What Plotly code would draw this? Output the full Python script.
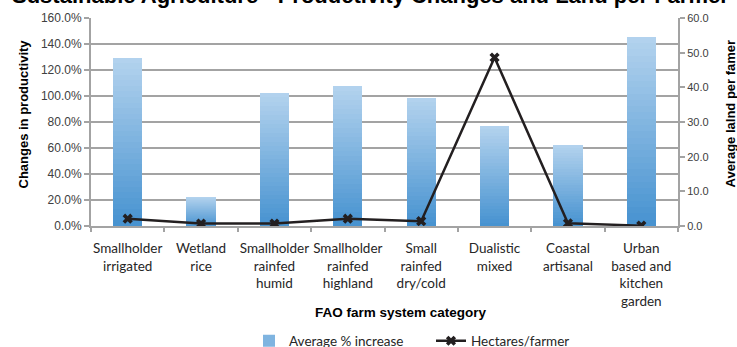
import plotly.graph_objects as go

categories = ["Smallholder<br>irrigated", "Wetland<br>rice", "Smallholder<br>rainfed<br>humid",
              "Smallholder<br>rainfed<br>highland", "Small<br>rainfed<br>dry/cold",
              "Dualistic<br>mixed", "Coastal<br>artisanal", "Urban<br>based and<br>kitchen<br>garden"]
productivity = [1.294, 0.223, 1.024, 1.078, 0.988, 0.770, 0.624, 1.456]
hectares = [2.1, 0.7, 0.7, 2.1, 1.4, 48.6, 0.8, 0.1]

bar_name = "Average % increase"
line_name = "Hectares/farmer"
title_text = "Sustainable Agriculture - Productivity Changes and Land per Farmer"

dark = (70, 146, 208)
light = (180, 211, 238)
N = 30

fig = go.Figure()
for i in range(N):
    t = (i + 0.5) / N
    c = tuple(int(round(dark[k] + (light[k] - dark[k]) * t)) for k in range(3))
    fig.add_trace(go.Bar(
        x=categories, y=[v / N for v in productivity],
        marker=dict(color="rgb(%d,%d,%d)" % c, line=dict(width=0)),
        name=bar_name, showlegend=(i == N // 2), legendrank=1,
        hoverinfo="skip", yaxis="y"))

fig.add_trace(go.Scatter(
    x=categories, y=hectares, yaxis="y2", name=line_name, mode="lines+markers",
    line=dict(color="#231f20", width=2.5),
    marker=dict(symbol="x", size=9, color="#231f20"), legendrank=2))

grid = "#a3a3a3"
fig.update_layout(
    width=737, height=347,
    margin=dict(l=91, r=59, t=18, b=121, autoexpand=False),
    paper_bgcolor="white", plot_bgcolor="white",
    barmode="stack", bargap=0.6,
    showlegend=True,
    legend=dict(orientation="h", x=249 / 737, xref="container", xanchor="left",
                y=1 - 341 / 347, yref="container", yanchor="middle", traceorder="normal",
                font=dict(family="Lato", size=13.5, color="#262626"),
                entrywidth=137, itemwidth=30),
    xaxis=dict(type="category", tickson="boundaries", ticks="outside", ticklen=4,
               tickcolor=grid, tickwidth=2, showline=True, linecolor=grid, linewidth=2,
               showgrid=False, tickfont=dict(family="Lato", size=13.5, color="#262626"),
               tickangle=0, automargin=False, ticklabelstandoff=9),
    yaxis=dict(range=[0, 1.6], dtick=0.2, tickformat=".1%", gridcolor=grid, gridwidth=2,
               showline=True, linecolor=grid, linewidth=2, ticks="outside", ticklen=5,
               tickcolor=grid, tickwidth=2, zeroline=False, automargin=False,
               tickfont=dict(family="Liberation Sans, Arial", size=12, color="#404040")),
    yaxis2=dict(range=[0, 60], dtick=10, tickformat=".1f", overlaying="y", side="right",
                showgrid=False, showline=True, linecolor=grid, linewidth=2, ticks="outside",
                ticklen=5, tickcolor=grid, tickwidth=2, zeroline=False, automargin=False,
                tickfont=dict(family="Liberation Sans, Arial", size=11, color="#404040")),
    annotations=[
        dict(text="<b>" + title_text + "</b>", xref="paper", yref="paper",
             x=(370 - 91) / 587, y=1.04,
             xanchor="center", yanchor="bottom", showarrow=False,
             font=dict(family="Liberation Sans, Arial", size=22, color="black")),
        dict(text="<b>Changes in productivity</b>", xref="paper", yref="paper",
             x=(23 - 91) / 587, y=(226 - 114.5) / 208, textangle=-90, showarrow=False,
             xanchor="center", yanchor="middle",
             font=dict(family="Liberation Sans, Arial", size=13, color="black")),
        dict(text="<b>Average lalnd per famer</b>", xref="paper", yref="paper",
             x=(730 - 91) / 587, y=(226 - 113.5) / 208, textangle=-90, showarrow=False,
             xanchor="center", yanchor="middle",
             font=dict(family="Liberation Sans, Arial", size=13, color="black")),
        dict(text="<b>FAO farm system category</b>", xref="paper", yref="paper",
             x=(401 - 91) / 587, y=(226 - 312) / 208, showarrow=False,
             xanchor="center", yanchor="middle",
             font=dict(family="Liberation Sans, Arial", size=13.5, color="black")),
    ],
)
fig.write_html("out.html")
